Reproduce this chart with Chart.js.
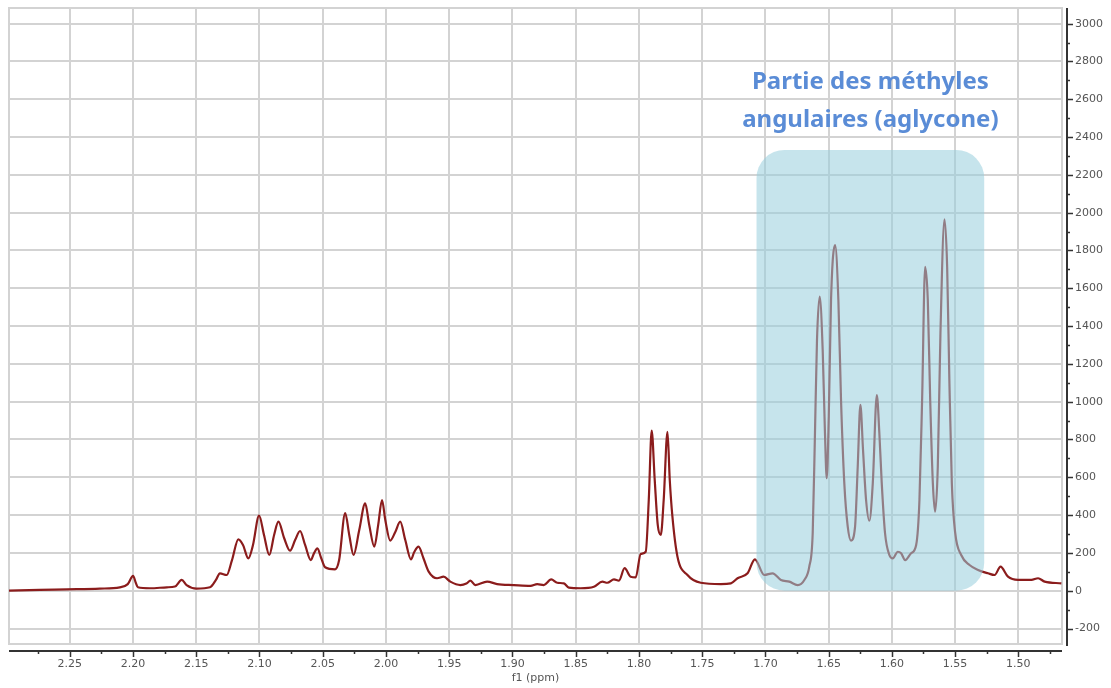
<!DOCTYPE html>
<html>
<head>
<meta charset="utf-8">
<script src="https://cdn.jsdelivr.net/npm/chart.js@4"></script>
<style>
    html, body { margin: 0; padding: 0; background: #fff; }
</style>
</head>
<body>
<canvas id="spectrum" width="1111" height="688"></canvas>
<script>
// chemical shift (ppm) from left to right
const shifts = [
    2.2983, 2.2738, 2.2524, 2.2262, 2.2104, 2.2041, 2.1999, 2.1977, 2.1961, 2.1866,
    2.1732, 2.1668, 2.1615, 2.1576, 2.1497, 2.1391, 2.1344, 2.1312, 2.1259, 2.1217,
    2.1167, 2.1130, 2.1088, 2.1051, 2.1003, 2.0964, 2.0922, 2.0884, 2.0850, 2.0805,
    2.0758, 2.0718, 2.0679, 2.0639, 2.0594, 2.0568, 2.0542, 2.0512, 2.0481, 2.0402,
    2.0370, 2.0322, 2.0290, 2.0256, 2.0211, 2.0164, 2.0132, 2.0092, 2.0061, 2.0031,
    2.0005, 1.9966, 1.9926, 1.9887, 1.9847, 1.9802, 1.9776, 1.9742, 1.9704, 1.9662,
    1.9596, 1.9544, 1.9491, 1.9411, 1.9364, 1.9332, 1.9293, 1.9200, 1.9121, 1.8989,
    1.8857, 1.8804, 1.8752, 1.8693, 1.8646, 1.8593, 1.8554, 1.8461, 1.8356, 1.8289,
    1.8250, 1.8197, 1.8158, 1.8113, 1.8065, 1.8025, 1.7986, 1.7946, 1.7922, 1.7899,
    1.7875, 1.7851, 1.7827, 1.7804, 1.7774, 1.7756, 1.7735, 1.7695, 1.7616, 1.7511,
    1.7352, 1.7273, 1.7220, 1.7141, 1.7083, 1.7009, 1.6943, 1.6877, 1.6811, 1.6745,
    1.6692, 1.6653, 1.6626, 1.6608, 1.6592, 1.6571, 1.6547, 1.6529, 1.6515, 1.6499,
    1.6481, 1.6449, 1.6423, 1.6402, 1.6376, 1.6349, 1.6323, 1.6291, 1.6270, 1.6249,
    1.6228, 1.6204, 1.6178, 1.6151, 1.6119, 1.6099, 1.6080, 1.6054, 1.6020, 1.5993,
    1.5953, 1.5927, 1.5895, 1.5848, 1.5808, 1.5782, 1.5761, 1.5737, 1.5716, 1.5697,
    1.5676, 1.5658, 1.5637, 1.5616, 1.5584, 1.5563, 1.5545, 1.5526, 1.5499, 1.5452,
    1.5386, 1.5319, 1.5240, 1.5188, 1.5141, 1.5082, 1.5003, 1.4897, 1.4844, 1.4792,
    1.4660
];

// signal intensity at each shift
const intensities = [
    0, 4, 7, 11, 18, 35, 78, 41, 18, 13,
    18, 22, 57, 30, 11, 18, 57, 92, 83, 162,
    272, 242, 171, 242, 397, 295, 189, 295, 365, 279,
    212, 268, 316, 242, 162, 199, 224, 173, 124, 113,
    162, 410, 295, 189, 321, 462, 348, 233, 348, 480,
    374, 265, 311, 365, 268, 166, 205, 233, 173, 101,
    66, 74, 48, 30, 38, 53, 30, 48, 35, 30,
    26, 35, 30, 60, 42, 39, 16, 13, 21, 48,
    42, 60, 53, 119, 74, 71, 194, 206, 480, 847,
    586, 348, 295, 480, 841, 586, 392, 180, 83, 42,
    35, 39, 66, 92, 166, 83, 92, 57, 48, 30,
    57, 127, 304, 834, 1326, 1556, 1274, 834, 595, 921,
    1538, 1829, 1538, 1009, 568, 339, 265, 339, 656, 983,
    744, 480, 370, 568, 1035, 833, 568, 304, 189, 171,
    206, 198, 162, 198, 242, 480, 1009, 1714, 1538, 1009,
    568, 418, 656, 1362, 1965, 1714, 1097, 568, 304, 189,
    136, 110, 92, 83, 127, 74, 57, 57, 66, 48,
    39
];

const shiftRange = [1.4655, 2.298];
const intensityRange = [-282, 3083];
const shiftTicks = [1.50, 1.55, 1.60, 1.65, 1.70, 1.75, 1.80, 1.85, 1.90, 1.95, 2.00, 2.05, 2.10, 2.15, 2.20, 2.25];
const intensityTicks = [-200, 0, 200, 400, 600, 800, 1000, 1200, 1400, 1600, 1800, 2000, 2200, 2400, 2600, 2800, 3000];

// highlighted region and its caption
const boxShifts = [1.707, 1.527];
const boxIntensities = [0, 2332];
const noteShift = 1.617;
const noteLines = ['Partie des méthyles', 'angulaires (aglycone)'];
const noteIntensities = [2653, 2452];

const tickFont = { family: 'DejaVu Sans', size: 11 };
const gridColor = '#d3d3d3';

const decorations = {
    id: 'decorations',
    beforeDatasetsDraw(chart) {
        const { ctx, chartArea: a } = chart;
        ctx.save();
        ctx.strokeStyle = gridColor;
        ctx.lineWidth = 2;
        ctx.strokeRect(a.left, a.top, a.right - a.left, a.bottom - a.top);
        ctx.restore();
    },
    afterDatasetsDraw(chart) {
        const { ctx, scales: { x, y } } = chart;
        const left = x.getPixelForValue(boxShifts[0]);
        const right = x.getPixelForValue(boxShifts[1]);
        const top = y.getPixelForValue(boxIntensities[1]);
        const bottom = y.getPixelForValue(boxIntensities[0]);
        ctx.save();
        ctx.fillStyle = 'rgba(151, 206, 220, 0.55)';
        ctx.beginPath();
        ctx.roundRect(left, top, right - left, bottom - top, 28);
        ctx.fill();
        ctx.restore();
    },
    afterDraw(chart) {
        const { ctx, chartArea: a, scales: { x, y } } = chart;
        ctx.save();

        // axis lines sit a few pixels outside the plot frame
        const axisX = a.right + 5;
        const axisY = a.bottom + 7;
        ctx.strokeStyle = '#333';
        ctx.lineWidth = 2;
        ctx.beginPath();
        ctx.moveTo(axisX, a.top);
        ctx.lineTo(axisX, a.bottom + 2);
        ctx.moveTo(a.left, axisY);
        ctx.lineTo(a.right, axisY);
        ctx.stroke();

        // major ticks at the labels, minor ticks halfway between
        ctx.lineWidth = 1.5;
        ctx.beginPath();
        intensityTicks.forEach(v => {
            [v, v + 100].forEach((t, k) => {
                if (t > intensityRange[1]) return;
                const py = Math.round(y.getPixelForValue(t)) + 0.5;
                ctx.moveTo(axisX, py);
                ctx.lineTo(axisX + (k ? 3 : 6), py);
            });
        });
        shiftTicks.forEach(v => {
            [v, v - 0.025].forEach((t, k) => {
                const px = Math.round(x.getPixelForValue(t)) + 0.5;
                ctx.moveTo(px, axisY);
                ctx.lineTo(px, axisY + (k ? 3 : 6));
            });
        });
        const extra = Math.round(x.getPixelForValue(2.275)) + 0.5;
        ctx.moveTo(extra, axisY);
        ctx.lineTo(extra, axisY + 3);
        ctx.stroke();

        // caption above the highlighted region
        ctx.fillStyle = '#5a8cd6';
        ctx.font = 'bold 24px "Noto Sans"';
        ctx.textAlign = 'center';
        ctx.textBaseline = 'alphabetic';
        noteLines.forEach((line, i) => {
            ctx.fillText(line, x.getPixelForValue(noteShift), y.getPixelForValue(noteIntensities[i]));
        });
        ctx.restore();
    }
};

new Chart(document.getElementById('spectrum'), {
    type: 'line',
    data: {
        datasets: [{
            data: shifts.map((s, i) => ({ x: s, y: intensities[i] })),
            borderColor: '#8b1c1c',
            borderWidth: 2.2,
            pointRadius: 0,
            fill: false,
            cubicInterpolationMode: 'monotone'
        }]
    },
    options: {
        responsive: false,
        animation: false,
        devicePixelRatio: 1,
        layout: { padding: { left: 9, top: 8, right: 0, bottom: 0 } },
        plugins: { legend: { display: false }, tooltip: { enabled: false } },
        scales: {
            x: {
                type: 'linear',
                reverse: true,
                min: shiftRange[0],
                max: shiftRange[1],
                afterBuildTicks: scale => { scale.ticks = shiftTicks.map(v => ({ value: v })); },
                afterFit: scale => {
                    scale.height = 44;
                    scale.paddingLeft = 0;
                    scale.paddingRight = 0;
                },
                border: { display: false },
                grid: { color: gridColor, lineWidth: 2, drawTicks: false },
                ticks: {
                    autoSkip: false,
                    maxRotation: 0,
                    padding: 14,
                    color: '#555',
                    font: tickFont,
                    callback: v => v.toFixed(2)
                },
                title: {
                    display: true,
                    text: 'f1 (ppm)',
                    color: '#555',
                    font: tickFont,
                    padding: { top: 0, bottom: 3 }
                }
            },
            y: {
                position: 'right',
                min: intensityRange[0],
                max: intensityRange[1],
                afterBuildTicks: scale => { scale.ticks = intensityTicks.map(v => ({ value: v })); },
                afterFit: scale => {
                    scale.width = 49;
                    scale.paddingTop = 0;
                    scale.paddingBottom = 0;
                },
                border: { display: false },
                grid: { color: gridColor, lineWidth: 2, drawTicks: false },
                ticks: {
                    autoSkip: false,
                    padding: 13,
                    color: '#555',
                    font: tickFont,
                    callback: v => String(v)
                }
            }
        }
    },
    plugins: [decorations]
});
</script>
</body>
</html>
